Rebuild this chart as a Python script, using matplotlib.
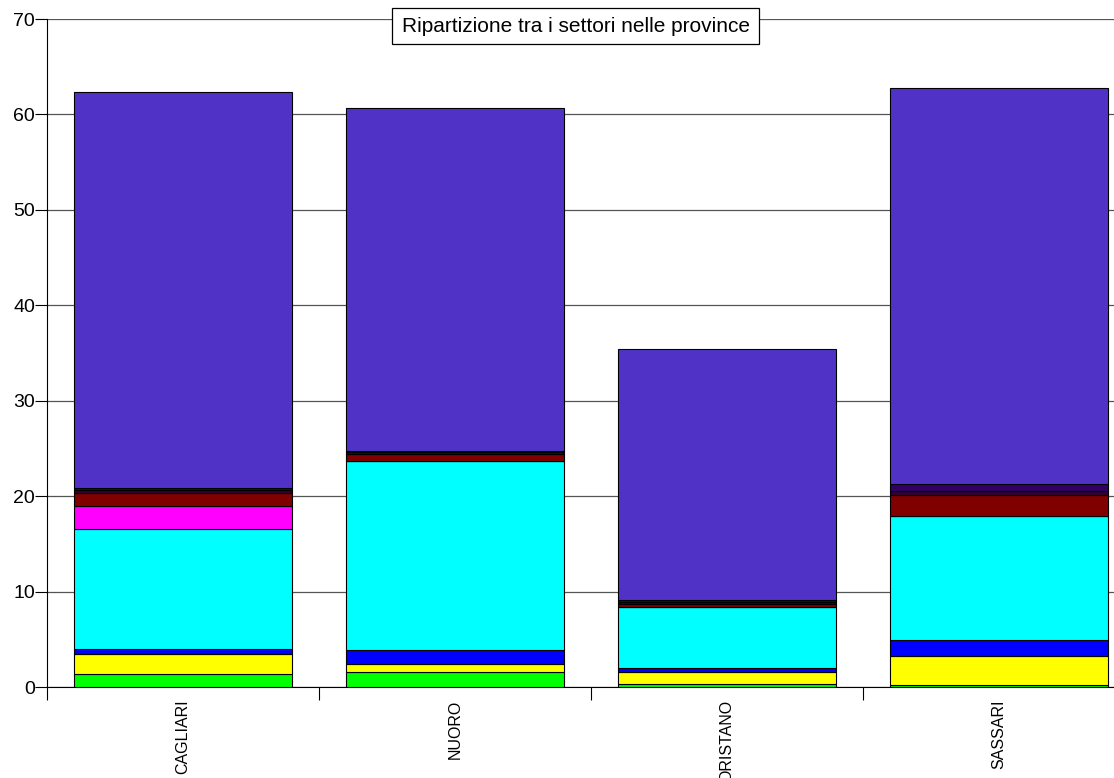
import numpy as np
import matplotlib.pyplot as plt
from matplotlib.patches import Rectangle

plt.rcParams['font.family'] = ['Liberation Sans', 'DejaVu Sans']

province = ["CAGLIARI", "NUORO", "ORISTANO", "SASSARI"]

# stacked segments, bottom to top
verde = [1.33, 1.54, 0.31, 0.18]
giallo = [2.16, 0.84, 1.23, 3.07]
blu = [0.52, 1.46, 0.45, 1.68]
ciano = [12.51, 19.84, 6.43, 12.96]
magenta = [2.41, 0.0, 0.0, 0.0]
bordeaux = [1.43, 0.70, 0.24, 2.26]
scuro1 = [0.24, 0.21, 0.21, 0.35]
scuro2 = [0.22, 0.17, 0.21, 0.77]
viola = [41.53, 35.91, 26.34, 41.50]

serie = [verde, giallo, blu, ciano, magenta, bordeaux, scuro1, scuro2, viola]
colori = ["#00ff00", "#ffff00", "#0000ff", "#00ffff", "#ff00ff",
          "#800000", "#330033", "#330066", "#5033c6"]

fig = plt.figure(figsize=(11.14, 7.78), dpi=100)
ax = fig.add_axes([47/1114, 91/778, 1088/1114, 668/778])

x = np.arange(len(province))
base = np.zeros(len(province))
for vals, col in zip(serie, colori):
    ax.bar(x, vals, width=0.8, bottom=base, color=col, edgecolor="black",
           linewidth=0.8, zorder=3)
    base += np.array(vals)

ax.set_xlim(-0.5, 3.5)
ax.set_ylim(0, 70)
ax.set_yticks(range(0, 71, 10))
ax.yaxis.grid(True, color="#555555", linewidth=0.9, zorder=0)
ax.tick_params(axis="y", length=8.6, width=0.8, labelsize=14, pad=0)

ax.set_xticks(x)
ax.set_xticklabels(province, rotation=90, va="top", fontsize=11.5)
ax.tick_params(axis="x", which="major", length=0, pad=9)
ax.set_xticks(np.arange(-0.5, 4.0, 1.0), minor=True)
ax.tick_params(axis="x", which="minor", length=9, width=0.8)

for s in ["top", "right"]:
    ax.spines[s].set_visible(False)
ax.spines["left"].set_linewidth(0.8)
ax.spines["bottom"].set_linewidth(0.8)

# title box
fig.patches.append(Rectangle((392/1114, 1 - 44/778), 367/1114, 36/778,
                             transform=fig.transFigure, facecolor="white",
                             edgecolor="black", linewidth=0.9, zorder=5))
fig.text(575.5/1114, 1 - 27/778, "Ripartizione tra i settori nelle province",
         ha="center", va="center", fontsize=15, zorder=6)

fig.savefig("out.png", dpi=100)
